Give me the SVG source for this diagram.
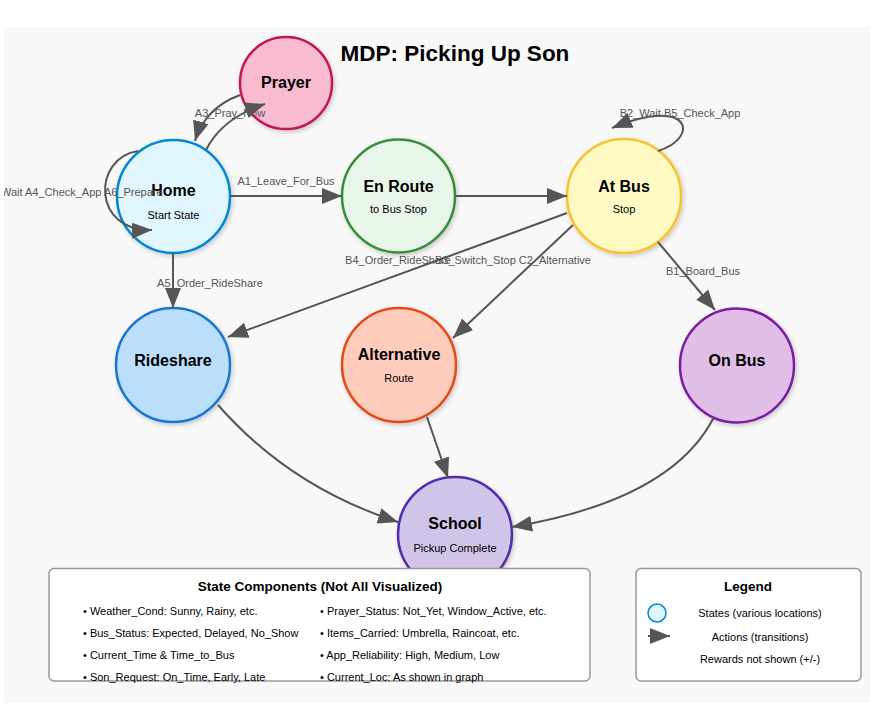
<svg xmlns="http://www.w3.org/2000/svg" width="870" height="718" viewBox="0 0 870 718">
<defs>
  <style>
    .node circle { stroke-width: 2.5; filter: url(#shadow); }
    .t { font-family: "Liberation Sans", Arial, sans-serif; font-weight: bold; font-size: 16px; fill: #000; text-anchor: middle; }
    .s { font-family: "Liberation Sans", Arial, sans-serif; font-size: 11px; fill: #000; text-anchor: middle; }
    .edge { fill: none; stroke: #555; stroke-width: 2; marker-end: url(#arrow); }
    .lbl { font-family: "Liberation Sans", Arial, sans-serif; font-size: 11px; fill: #555; text-anchor: middle; }
    .box { fill: #fff; stroke: #999; stroke-width: 1.5; }
    .bt { font-family: "Liberation Sans", Arial, sans-serif; font-weight: bold; font-size: 13.5px; fill: #000; text-anchor: middle; }
    .it { font-family: "Liberation Sans", Arial, sans-serif; font-size: 11px; fill: #000; }
  </style>
  <marker id="arrow" viewBox="0 0 10 8" markerWidth="10" markerHeight="8" refX="10" refY="4" orient="auto">
    <path d="M0,0 L10,4 L0,8 Z" fill="#555"/>
  </marker>
  <filter id="shadow" x="-20%" y="-20%" width="140%" height="140%">
    <feDropShadow dx="1.5" dy="2" stdDeviation="2" flood-color="#000" flood-opacity="0.2"/>
  </filter>
  <clipPath id="bgclip"><rect x="4" y="27" width="866" height="676"/></clipPath>
</defs>
<rect x="4" y="27" width="866" height="676" fill="#f8f8f8"/>
<g clip-path="url(#bgclip)">
<text x="455" y="61" font-family="Liberation Sans, Arial, sans-serif" font-weight="bold" font-size="22.5" text-anchor="middle" fill="#000">MDP: Picking Up Son</text>

<g id="prayer" class="node">
  <circle cx="286" cy="83" r="46" fill="#f8bbd0" stroke="#c2185b"/>
  <text class="t" x="286" y="88">Prayer</text>
</g>
<g id="home" class="node">
  <circle cx="173.5" cy="196.5" r="56.5" fill="#e1f5fe" stroke="#0288d1"/>
  <text class="t" x="173.5" y="196">Home</text>
  <text class="s" x="173.5" y="219">Start State</text>
</g>
<g id="enroute" class="node">
  <circle cx="398.5" cy="196" r="56.5" fill="#e8f5e9" stroke="#388e3c"/>
  <text class="t" x="398.5" y="192">En Route</text>
  <text class="s" x="398.5" y="213">to Bus Stop</text>
</g>
<g id="atbus" class="node">
  <circle cx="624" cy="196" r="57" fill="#fff9c4" stroke="#fbc02d"/>
  <text class="t" x="624" y="192">At Bus</text>
  <text class="s" x="624" y="213">Stop</text>
</g>
<g id="rideshare" class="node">
  <circle cx="173" cy="365" r="57" fill="#bbdefb" stroke="#1976d2"/>
  <text class="t" x="173" y="366">Rideshare</text>
</g>
<g id="alternative" class="node">
  <circle cx="399" cy="365" r="57" fill="#ffccbc" stroke="#e64a19"/>
  <text class="t" x="399" y="360">Alternative</text>
  <text class="s" x="399" y="382">Route</text>
</g>
<g id="onbus" class="node">
  <circle cx="737" cy="365.5" r="57" fill="#e1bee7" stroke="#7b1fa2"/>
  <text class="t" x="737" y="366">On Bus</text>
</g>
<g id="school" class="node">
  <circle cx="455" cy="534" r="57" fill="#d1c4e9" stroke="#512da8"/>
  <text class="t" x="455" y="529">School</text>
  <text class="s" x="455" y="552">Pickup Complete</text>
</g>

<g id="connectors">
  <path class="edge" d="M206,150 Q222,118 265,104"/>
  <path class="edge" d="M240,95 Q205,108 195,141"/>
  <path class="edge" d="M138,151 C92,158 92,232 152,230"/>
  <path class="edge" d="M230,196 L342,196"/>
  <path class="edge" d="M455,196 L567,196"/>
  <path class="edge" d="M173,253 L173,308"/>
  <path class="edge" d="M658,151 C700,138 692,95 612,128"/>
  <path class="edge" d="M567,213 L228,337"/>
  <path class="edge" d="M573,225 L453,338"/>
  <path class="edge" d="M658,242 L715,310"/>
  <path class="edge" d="M218,405 Q290,487 398,522"/>
  <path class="edge" d="M427,417 L448,478"/>
  <path class="edge" d="M714,417 Q672,500 512,527"/>
  <text class="lbl" x="230" y="117">A3_Pray_Now</text>
  <text class="lbl" x="72" y="196">A2_Wait A4_Check_App A6_Prepare</text>
  <text class="lbl" x="286" y="185">A1_Leave_For_Bus</text>
  <text class="lbl" x="210" y="287">A5_Order_RideShare</text>
  <text class="lbl" x="680" y="117">B2_Wait B5_Check_App</text>
  <text class="lbl" x="398" y="264">B4_Order_RideShare</text>
  <text class="lbl" x="513" y="264">B3_Switch_Stop C2_Alternative</text>
  <text class="lbl" x="703" y="275">B1_Board_Bus</text>
</g>

<g id="state-components">
  <rect class="box" x="49" y="568.5" width="541" height="112.5" rx="5"/>
  <text class="bt" x="320" y="591">State Components (Not All Visualized)</text>
  <text class="it" x="83" y="614.5">• Weather_Cond: Sunny, Rainy, etc.</text>
  <text class="it" x="83" y="636.5">• Bus_Status: Expected, Delayed, No_Show</text>
  <text class="it" x="83" y="658.5">• Current_Time &amp; Time_to_Bus</text>
  <text class="it" x="83" y="680.5">• Son_Request: On_Time, Early, Late</text>
  <text class="it" x="320" y="614.5">• Prayer_Status: Not_Yet, Window_Active, etc.</text>
  <text class="it" x="320" y="636.5">• Items_Carried: Umbrella, Raincoat, etc.</text>
  <text class="it" x="320" y="658.5">• App_Reliability: High, Medium, Low</text>
  <text class="it" x="320" y="680.5">• Current_Loc: As shown in graph</text>
</g>

<g id="legend">
  <rect class="box" x="636" y="568.5" width="225" height="112.5" rx="5"/>
  <text class="bt" x="748" y="591">Legend</text>
  <circle cx="657" cy="613" r="9" fill="#e1f5fe" stroke="#0288d1" stroke-width="1.5"/>
  <text class="s" x="760" y="617">States (various locations)</text>
  <path d="M648,636 L670,636" fill="none" stroke="#555" stroke-width="2" marker-end="url(#arrow)"/>
  <text class="s" x="760" y="641">Actions (transitions)</text>
  <text class="s" x="760" y="663">Rewards not shown (+/-)</text>
</g>
</g>
</svg>
